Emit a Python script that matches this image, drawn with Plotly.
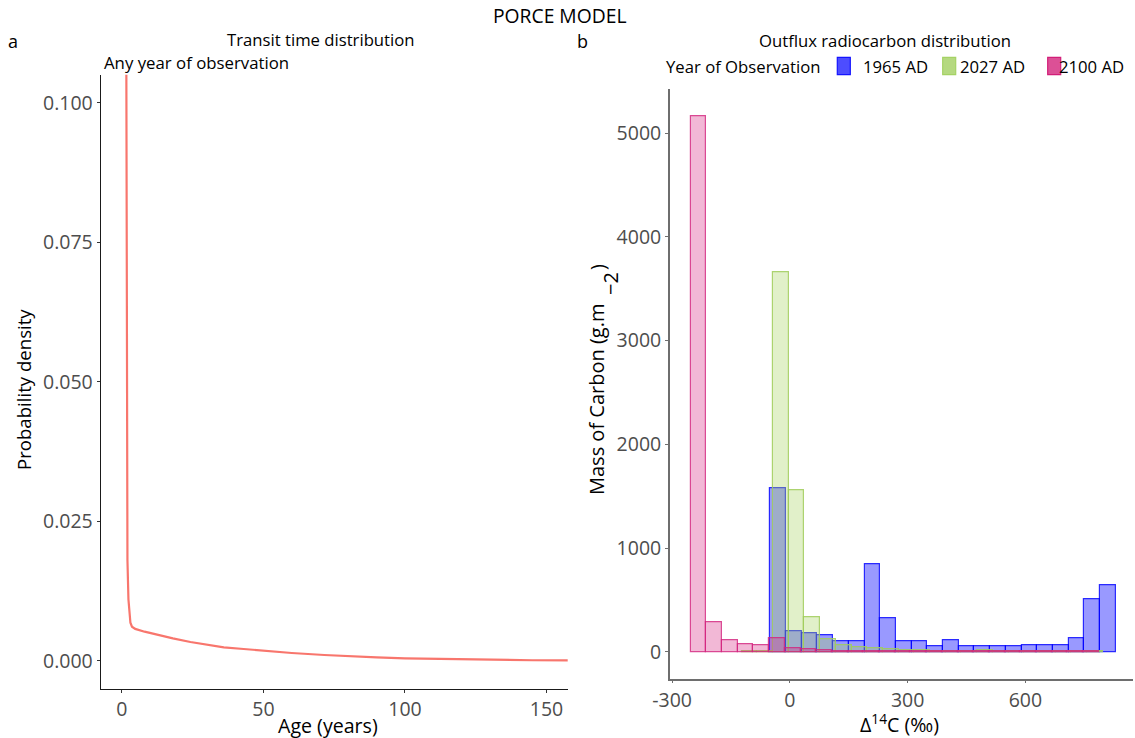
import plotly.graph_objects as go

W, H = 1135, 738
FONT = "Open Sans"

# ---------------- data: panel a (transit time density) ----------------
age_years = [1.5, 1.6, 1.75, 1.95, 2.3, 2.65, 3.0, 3.55, 4.7, 8, 12.4, 18, 24.2,
             30, 36, 43, 50, 60, 71.5, 80, 90, 100, 115, 130, 145, 160]
density = [0.12, 0.09, 0.05, 0.018, 0.011, 0.0078, 0.0068, 0.0061, 0.0057, 0.0052,
           0.00465, 0.0040, 0.00335, 0.0029, 0.0024, 0.0021, 0.00179, 0.00138,
           0.00102, 0.00079, 0.00060, 0.00043, 0.00027, 0.00015, 0.00008, 0.00004]
age_ticks = [0, 50, 100, 150]
density_ticks = [0, 0.025, 0.05, 0.075, 0.1]
density_ticktext = ["0.000", "0.025", "0.050", "0.075", "0.100"]

# ---------------- data: panel b (outflux radiocarbon histogram) ----------------
bin_width = 40
d14c_1965 = [-30, 10, 50, 90, 130, 170, 210, 250, 290, 330, 370, 410, 450, 490,
             530, 570, 610, 650, 690, 730, 770, 810]
mass_1965 = [1580, 194, 175, 156, 98, 104, 849, 319, 98, 98, 50, 107, 50, 50,
             53, 56, 59, 59, 59, 127, 505, 643]

d14c_2027 = [-103, -63, -23, 17, 57, 97, 137, 177, 217, 257, 297, 337, 377, 417,
             457, 497, 537, 577, 617, 657, 697, 737, 777]
mass_2027 = [8, 8, 3662, 1558, 338, 120, 59, 40, 37, 21, 12, 18, 10, 8,
             6, 14, 8, 5, 4, 4, 3, 3, 3]

d14c_2100 = [-233, -193, -153, -113, -73, -33, 7, 47, 87, 127, 167, 207, 247, 287,
             327, 367, 407, 447, 487, 527, 567, 607, 647, 687, 727, 767]
mass_2100 = [5167, 281, 110, 75, 62, 135, 33, 26, 14, 8, 6, 5, 5, 4,
             4, 4, 3, 3, 3, 3, 3, 3, 3, 3, 3, 3]

d14c_ticks = [-300, 0, 300, 600]
d14c_ticktext = ["-300", "0", "300", "600"]
mass_ticks = [0, 1000, 2000, 3000, 4000, 5000]

legend_title = "Year of Observation"
series_names = ["1965 AD", "2027 AD", "2100 AD"]


def X(p):
    return p / W


def Y(p):
    return 1 - p / H


fig = go.Figure()

fig.add_trace(go.Scatter(x=age_years, y=density, mode="lines",
                         line=dict(color="#F8766D", width=2.2),
                         xaxis="x", yaxis="y", showlegend=False))

styles = [
    dict(fill="rgba(0,0,255,0.40)", line="rgba(0,0,255,0.80)"),
    dict(fill="rgba(170,212,100,0.35)", line="rgba(160,205,90,0.85)"),
    dict(fill="rgba(215,40,130,0.33)", line="rgba(210,35,125,0.80)"),
]
for xs, ys, st, nm in zip([d14c_1965, d14c_2027, d14c_2100],
                          [mass_1965, mass_2027, mass_2100], styles, series_names):
    fig.add_trace(go.Bar(x=xs, y=ys, width=[bin_width] * len(xs), name=nm,
                         marker=dict(color=st["fill"], line=dict(color=st["line"], width=1.2)),
                         xaxis="x2", yaxis="y2", showlegend=False))

tickfont = dict(family=FONT, size=19.5, color="#4D4D4D")
axis_a = dict(ticks="outside", ticklen=3, tickwidth=1, tickcolor="#333333",
              showline=True, linecolor="#1a1a1a", linewidth=1.1,
              showgrid=False, zeroline=False, tickfont=tickfont, automargin=False)
axis_b = dict(ticks="outside", ticklen=3, tickwidth=1.2, tickcolor="#6e6e6e",
              showline=True, linecolor="#6e6e6e", linewidth=1.8,
              showgrid=False, zeroline=False, tickfont=tickfont, automargin=False)

fig.update_layout(
    width=W, height=H,
    margin=dict(l=0, r=0, t=0, b=0, autoexpand=False),
    paper_bgcolor="white", plot_bgcolor="white",
    barmode="overlay", bargap=0, showlegend=False,
    font=dict(family=FONT, color="black"),
    xaxis=dict(domain=[X(100.7), X(567.7)], range=[-7.5, 157.5],
               tickvals=age_ticks, anchor="y", **axis_a),
    yaxis=dict(domain=[Y(688.6), Y(74.8)], range=[-0.005, 0.105],
               tickvals=density_ticks, ticktext=density_ticktext, anchor="x", **axis_a),
    xaxis2=dict(domain=[X(670), X(1133)], range=[-305.5, 874],
                tickvals=d14c_ticks, ticktext=d14c_ticktext, anchor="y2", **axis_b),
    yaxis2=dict(domain=[Y(678.5), Y(89.2)], range=[-258, 5425],
                tickvals=mass_ticks, anchor="x2", **axis_b),
)


def ann(text, x, y, size, xanchor="center", yanchor="middle", angle=0, color="black"):
    fig.add_annotation(text=text, x=X(x), y=Y(y), xref="paper", yref="paper",
                       showarrow=False, xanchor=xanchor, yanchor=yanchor, textangle=angle,
                       font=dict(family=FONT, size=size, color=color))


ann("PORCE MODEL", 559, 15.5, 19.3)
ann("a", 13, 40.5, 18)
ann("b", 582.5, 40.5, 18)
ann("Transit time distribution", 321, 39.5, 16.7)
ann("Any year of observation", 101.5, 63, 16.8, xanchor="left")
ann("Outflux radiocarbon distribution", 885, 40.5, 16.7)
ann("Probability density", 23, 390, 18.6, angle=-90)
ann("Age (years)", 328, 725, 19.6)
# y title of panel b, drawn as in the reference (exponent set beside the text)
ann("Mass of Carbon (g.m", 597, 400, 20, angle=-90)
ann("−2", 610.5, 283.5, 20, angle=-90)
ann(")", 597, 267, 20, angle=-90)
ann("Δ<sup>14</sup>C (‰)", 899, 723, 19.6)

# legend
ann(legend_title, 664.4, 66.5, 16.7, xanchor="left")
keys = [(837.3, 850.3, "rgb(77,77,255)", "rgb(20,20,255)", 860.5),
        (942.7, 955.7, "rgb(181,217,128)", "rgb(165,210,100)", 958),
        (1047.7, 1060.7, "rgb(220,80,150)", "rgb(210,30,120)", 1057)]
for (x0, x1, fc, lc, tx), nm in zip(keys, series_names):
    fig.add_shape(type="rect", xref="paper", yref="paper",
                  x0=X(x0), x1=X(x1), y0=Y(74.7), y1=Y(57.3),
                  fillcolor=fc, line=dict(color=lc, width=1.2))
    ann(nm, tx, 66.5, 16.7, xanchor="left")

fig.write_html("out.html", config={"displayModeBar": False},
               post_script="document.body.style.margin='0';document.body.style.overflow='hidden';")
